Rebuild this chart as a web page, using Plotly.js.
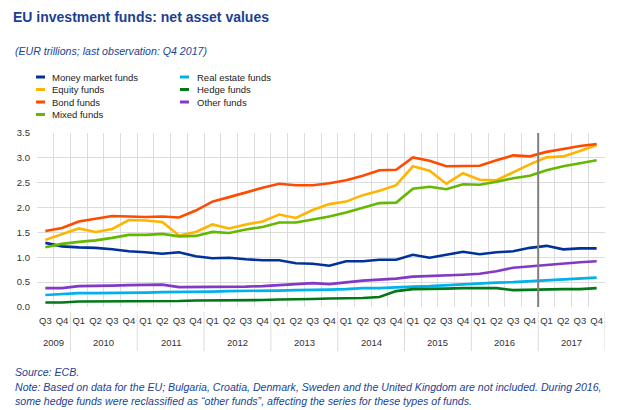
<!DOCTYPE html>
<html>
<head>
<meta charset="utf-8">
<script src="https://cdn.plot.ly/plotly-3.0.1.min.js"></script>
<style>html,body{margin:0;padding:0;background:#fff;}#chart{width:619px;height:410px;}</style>
</head>
<body>
<div id="chart"></div>
<script>
// ---- data ----
const years = ['2009','2009',
  '2010','2010','2010','2010','2011','2011','2011','2011',
  '2012','2012','2012','2012','2013','2013','2013','2013',
  '2014','2014','2014','2014','2015','2015','2015','2015',
  '2016','2016','2016','2016','2017','2017','2017','2017'];
const quarters = ['Q3','Q4',
  'Q1','Q2','Q3','Q4','Q1','Q2','Q3','Q4',
  'Q1','Q2','Q3','Q4','Q1','Q2','Q3','Q4',
  'Q1','Q2','Q3','Q4','Q1','Q2','Q3','Q4',
  'Q1','Q2','Q3','Q4','Q1','Q2','Q3','Q4'];

const moneyMarket = [1.29,1.22, 1.20,1.19,1.16,1.12, 1.10,1.07,1.10,1.02, 0.98,0.99,0.96,0.94, 0.94,0.88,0.87,0.83, 0.92,0.92,0.95,0.95, 1.05,0.99,1.05,1.11, 1.06,1.10,1.12,1.19, 1.23,1.16,1.18,1.18];
const equity = [1.35,1.47, 1.58,1.51,1.57,1.75, 1.74,1.71,1.44,1.51, 1.66,1.58,1.66,1.72, 1.86,1.79,1.95,2.07, 2.12,2.25,2.34,2.45, 2.83,2.74,2.48,2.69, 2.56,2.55,2.71,2.87, 3.01,3.03,3.14,3.26];
const bond = [1.53,1.59, 1.72,1.78,1.83,1.82, 1.81,1.82,1.80,1.94, 2.12,2.21,2.31,2.40, 2.48,2.45,2.45,2.49, 2.55,2.64,2.75,2.76, 3.01,2.94,2.83,2.83, 2.84,2.95,3.05,3.03, 3.12,3.18,3.24,3.28];
const mixed = [1.20,1.27, 1.31,1.34,1.39,1.45, 1.45,1.47,1.42,1.43, 1.51,1.49,1.56,1.61, 1.70,1.70,1.76,1.82, 1.90,2.00,2.09,2.10, 2.38,2.42,2.37,2.47, 2.46,2.52,2.59,2.64, 2.75,2.83,2.89,2.95];
const realEstate = [0.24,0.26, 0.28,0.28,0.28,0.29, 0.29,0.30,0.30,0.30, 0.31,0.32,0.32,0.32, 0.33,0.34,0.34,0.35, 0.36,0.38,0.38,0.40, 0.41,0.42,0.44,0.46, 0.47,0.49,0.50,0.52, 0.54,0.55,0.57,0.59];
const hedge = [0.09,0.09, 0.11,0.11,0.11,0.11, 0.11,0.12,0.12,0.13, 0.13,0.13,0.13,0.14, 0.15,0.15,0.16,0.17, 0.17,0.18,0.20,0.32, 0.36,0.36,0.37,0.38, 0.38,0.38,0.34,0.35, 0.36,0.36,0.36,0.38];
const other = [0.38,0.38, 0.42,0.42,0.43,0.44, 0.45,0.45,0.40,0.40, 0.40,0.40,0.41,0.42, 0.44,0.46,0.48,0.46, 0.50,0.53,0.55,0.57, 0.61,0.62,0.64,0.65, 0.67,0.72,0.79,0.82, 0.85,0.88,0.90,0.92];

const seriesNames = ['Money market funds','Equity funds','Bond funds','Mixed funds','Real estate funds','Hedge funds','Other funds'];
const seriesValues = [moneyMarket, equity, bond, mixed, realEstate, hedge, other];
const seriesColors = ['#003299','#FFB400','#FF4B00','#65B800','#00B1EA','#007816','#8139C6'];
const lastObsYear = '2016', lastObsQuarter = 'Q4';

const titleText = 'EU investment funds: net asset values';
const subtitleText = '(EUR trillions; last observation: Q4 2017)';
const sourceText = 'Source: ECB.';
const noteLines = ['Note: Based on data for the EU; Bulgaria, Croatia, Denmark, Sweden and the United Kingdom are not included. During 2016,',
  'some hedge funds were reclassified as “other funds”, affecting the series for these types of funds.'];

// ---- layout helpers ----
const W = 619, H = 410;
const M = {l: 37, r: 14, t: 133, b: 103};
const pw = W - M.l - M.r, ph = H - M.t - M.b;
const px = x => (x - M.l) / pw;
const py = y => (H - M.b - y) / ph;
const FONT = 'Liberation Sans, Arial, sans-serif';
const BLUE = '#1b3f94';
const GRID = '#dcdcdc';

const cats = years.map((y, i) => y + ' ' + quarters[i]);

const traces = seriesNames.map((n, i) => ({
  type: 'scatter', mode: 'lines', name: n,
  x: cats, y: seriesValues[i],
  line: {color: seriesColors[i], width: 2.6},
  showlegend: false, hoverinfo: 'skip'
}));

const annotations = [];
const shapes = [];

annotations.push({xref:'paper', yref:'paper', x: px(13), y: py(51), xanchor:'left', yanchor:'middle',
  text: '<i>' + subtitleText + '</i>', showarrow:false, font:{family:FONT, size:10.6, color:BLUE}});

// legend (two columns, column-major)
const legCols = [{sx: 36, tx: 50, idx: [0,1,2,3]}, {sx: 180, tx: 195, idx: [4,5,6]}];
const legRows = [77, 89.5, 102, 114.5];
legCols.forEach(c => c.idx.forEach((si, r) => {
  shapes.push({type:'line', xref:'paper', yref:'paper', x0: px(c.sx), x1: px(c.sx + 9), y0: py(legRows[r]), y1: py(legRows[r]),
    line:{color: seriesColors[si], width: 3}});
  annotations.push({xref:'paper', yref:'paper', x: px(c.tx), y: py(legRows[r]), xanchor:'left', yanchor:'middle',
    text: seriesNames[si], showarrow:false, font:{family:FONT, size:9.5, color:'#222'}});
}));

// year labels and dividers under the quarter labels
const uniqYears = [...new Set(years)];
uniqYears.forEach(yr => {
  const ids = years.map((y, i) => y === yr ? i : -1).filter(i => i >= 0);
  const mid = (ids[0] + ids[ids.length - 1]) / 2;
  annotations.push({xref:'x', yref:'paper', x: mid, y: py(342), xanchor:'center', yanchor:'middle',
    text: yr, showarrow:false, font:{family:FONT, size:9.5, color:'#333'}});
  const end = ids[ids.length - 1] + 0.5;
  shapes.push({type:'line', xref:'x', yref:'paper', x0: end, x1: end, y0: py(312), y1: py(351),
    line:{color: GRID, width: 1}});
});

// footer
annotations.push({xref:'paper', yref:'paper', x: px(13), y: py(372), xanchor:'left', yanchor:'middle',
  text: '<i>' + sourceText + '</i>', showarrow:false, font:{family:FONT, size:10.6, color:BLUE}});
noteLines.forEach((t, i) => annotations.push({xref:'paper', yref:'paper', x: px(13), y: py(386.5 + i * 14.5), xanchor:'left', yanchor:'middle',
  text: '<i>' + t + '</i>', showarrow:false, font:{family:FONT, size:10.6, color:BLUE}}));

// vertical line after last-observation boundary
let idx = 0;
for (let i = 0; i < years.length; i++) if (years[i] === lastObsYear && quarters[i] === lastObsQuarter) idx = i;
shapes.push({type:'line', xref:'x', yref:'paper', x0: idx + 0.5, x1: idx + 0.5, y0: 0, y1: 1,
  line:{color:'#7f7f7f', width:2}});

const layout = {
  width: W, height: H,
  margin: M,
  paper_bgcolor: '#fff', plot_bgcolor: '#fff',
  font: {family: FONT, size: 9, color: '#333'},
  title: {text: '<b>' + titleText + '</b>', xref:'container', yref:'container', x: 13 / W, y: 1 - 17 / H,
    xanchor:'left', yanchor:'middle', font:{family:FONT, size:14, color:BLUE}},
  xaxis: {type:'category', tickmode:'array', tickvals: cats, ticktext: quarters, tickangle: 0,
    tickson:'boundaries', range:[-0.5, cats.length - 0.5],
    showgrid:true, gridcolor:GRID, gridwidth:1, ticklabelstandoff:6,
    showline:false, ticks:'', tickfont:{family:FONT, size:9.5, color:'#333'}, fixedrange:true},
  yaxis: {range:[0, 3.5], dtick:0.5, tickformat:'.1f', showgrid:true, gridcolor:GRID, gridwidth:1,
    zeroline:false, showline:false, ticks:'', ticklabelstandoff:6, tickfont:{family:FONT, size:9.5, color:'#333'}, fixedrange:true},
  shapes: shapes,
  annotations: annotations,
  showlegend: false
};

Plotly.newPlot('chart', traces, layout, {displayModeBar:false, staticPlot:true});
</script>
</body>
</html>
